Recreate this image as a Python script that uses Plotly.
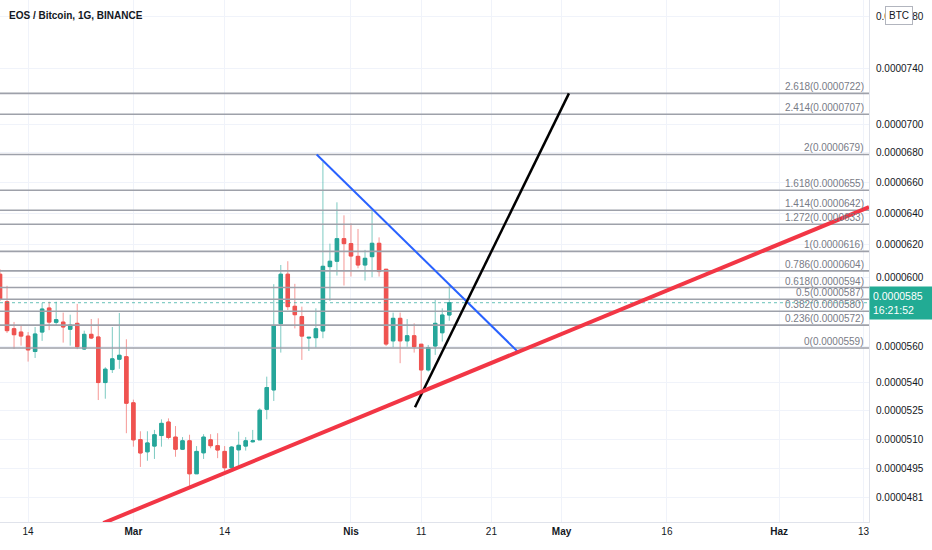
import numpy as np
import pandas as pd
import plotly.graph_objects as go

SCALE = 1e-7  # prices below are in units of 0.0000001 BTC

dates = pd.date_range("2021-02-10", periods=65, freq="D")

open_ = [602.0, 585.6, 569.9, 568.0, 565.7, 557.0, 568.0, 581.9, 573.6, 573.7,
         569.6, 573.0, 558.4, 566.7, 565.2, 539.9, 547.0, 552.7, 554.1, 529.0,
         509.8, 503.6, 506.5, 511.9, 518.9, 511.1, 504.9, 509.2, 492.6, 503.1,
         509.7, 506.7, 503.8, 495.6, 504.6, 506.5, 508.7, 509.7, 525.6, 535.9,
         572.8, 602.0, 582.9, 576.9, 564.6, 564.8, 568.6, 606.6, 609.9, 623.9,
         620.8, 612.9, 607.6, 612.7, 621.0, 605.0, 563.0, 575.9, 563.0, 565.9,
         561.1, 546.8, 560.1, 567.6, 577.8]
close = [587.2, 568.8, 566.5, 565.7, 557.9, 566.9, 581.3, 573.7, 575.1, 570.9,
         572.0, 559.7, 566.7, 564.6, 539.9, 547.2, 552.9, 554.9, 528.8, 509.7,
         503.0, 508.1, 512.3, 518.2, 510.9, 504.9, 509.2, 492.6, 503.8, 511.1,
         506.7, 504.5, 495.6, 506.0, 506.9, 509.2, 509.2, 525.1, 537.2, 571.6,
         602.0, 582.7, 578.0, 565.7, 565.0, 569.9, 606.8, 609.9, 623.9, 620.8,
         613.1, 607.6, 611.7, 621.0, 603.6, 561.2, 575.9, 563.0, 565.9, 559.7,
         546.8, 559.2, 573.0, 577.8, 585.0]
high = [605.0, 595.0, 573.8, 571.5, 568.0, 570.9, 584.9, 585.6, 585.6, 579.2,
        578.0, 584.3, 568.8, 575.5, 575.9, 548.3, 570.9, 579.0, 563.9, 530.7,
        514.1, 514.1, 514.8, 520.3, 520.8, 516.8, 511.1, 512.3, 506.5, 512.6,
        512.6, 513.1, 506.5, 506.5, 513.9, 511.1, 514.8, 526.1, 543.1, 596.0,
        607.6, 609.9, 596.2, 582.7, 565.0, 581.7, 674.0, 620.8, 647.1, 638.7,
        633.6, 630.0, 616.9, 641.7, 624.7, 605.0, 579.2, 579.2, 575.5, 573.0,
        561.1, 560.7, 587.0, 581.7, 595.4]
low = [586.0, 567.5, 558.4, 560.3, 551.4, 553.4, 563.0, 569.1, 572.0, 562.0,
       560.3, 558.3, 557.9, 564.0, 530.5, 531.2, 545.1, 547.4, 513.1, 506.2,
       496.0, 499.1, 500.0, 506.2, 510.0, 501.1, 504.5, 485.5, 492.5, 500.0,
       505.4, 500.4, 493.8, 495.4, 495.4, 504.2, 508.3, 509.7, 520.3, 530.0,
       556.4, 580.7, 570.1, 552.3, 557.3, 559.2, 564.5, 586.0, 601.2, 595.2,
       600.6, 605.6, 598.2, 600.2, 600.6, 560.1, 559.4, 550.5, 559.7, 556.4,
       534.1, 545.9, 555.1, 562.6, 574.5]

fib_levels = ["0", "0.236", "0.382", "0.5", "0.618", "0.786", "1",
              "1.272", "1.414", "1.618", "2", "2.414", "2.618"]
fib_prices = [559, 572, 580, 587, 594, 604, 616, 633, 642, 655, 679, 707, 722]

last_price = 585.0
countdown = "16:21:52"

y_tickvals = [780, 740, 700, 680, 660, 640, 620, 600, 560, 540, 525, 510, 495, 481]
x_tickvals = ["2021-02-14", "2021-03-01", "2021-03-14", "2021-04-01", "2021-04-11",
              "2021-04-21", "2021-05-01", "2021-05-16", "2021-06-01", "2021-06-13"]
x_ticktext = ["14", "<b>Mar</b>", "14", "<b>Nis</b>", "11", "21", "<b>May</b>", "16",
              "<b>Haz</b>", "13"]

x_range = ["2021-02-10 00:00", "2021-06-13 19:00"]
y_range_px = [469.3, 793.0]

# trend lines (date, price)
red_x = ["2021-02-24 17:10", "2021-06-13 19:00"]
red_y = [468.8, 644.0]
blue_x = ["2021-03-27 02:40", "2021-04-24 19:00"]
blue_y = [679.0, 556.8]
black_x = ["2021-04-10 02:50", "2021-05-02 01:10"]
black_y = [526.7, 722.0]

GREEN = "#26a69a"
RED = "#ef5350"
FONT = "Liberation Sans"

o = np.array(open_) * SCALE
c = np.array(close) * SCALE
h = np.array(high) * SCALE
l = np.array(low) * SCALE

fig = go.Figure()
# wicks (lighter)
fig.add_trace(go.Candlestick(
    x=dates, open=o, high=h, low=l, close=c,
    increasing=dict(line=dict(color="rgba(38,166,154,0.6)", width=1), fillcolor="rgba(38,166,154,0.6)"),
    decreasing=dict(line=dict(color="rgba(239,83,80,0.6)", width=1), fillcolor="rgba(239,83,80,0.6)"),
    hoverinfo="skip", showlegend=False))
# bodies
fig.add_trace(go.Candlestick(
    x=dates, open=o, high=np.maximum(o, c), low=np.minimum(o, c), close=c,
    increasing=dict(line=dict(color=GREEN, width=1), fillcolor=GREEN),
    decreasing=dict(line=dict(color=RED, width=1), fillcolor=RED),
    hoverinfo="skip", showlegend=False))

# fib lines
for lv, pr in zip(fib_levels, fib_prices):
    fig.add_trace(go.Scatter(x=x_range, y=[pr * SCALE] * 2, mode="lines",
                             line=dict(color="#9ea1aa", width=1.6),
                             hoverinfo="skip", showlegend=False))
    fig.add_annotation(xref="paper", x=865 / 869, xanchor="right",
                       y=np.log10(pr * SCALE), yanchor="bottom",
                       text=f"{lv}({pr * SCALE:.7f})", showarrow=False,
                       font=dict(family=FONT, size=10, color="#787b86"),
                       borderpad=0)

# last price dotted line
fig.add_trace(go.Scatter(x=x_range, y=[last_price * SCALE] * 2, mode="lines",
                         line=dict(color="rgba(38,166,154,0.7)", width=1, dash="dot"),
                         hoverinfo="skip", showlegend=False))

fig.add_trace(go.Scatter(x=blue_x, y=np.array(blue_y) * SCALE, mode="lines",
                         line=dict(color="#2962ff", width=2), hoverinfo="skip", showlegend=False))
fig.add_trace(go.Scatter(x=black_x, y=np.array(black_y) * SCALE, mode="lines",
                         line=dict(color="#000000", width=2.5), hoverinfo="skip", showlegend=False))
fig.add_trace(go.Scatter(x=red_x, y=np.array(red_y) * SCALE, mode="lines",
                         line=dict(color="#f23645", width=4), hoverinfo="skip", showlegend=False))

# title
fig.add_annotation(xref="paper", yref="paper", x=7 / 869, y=1 - 15 / 522,
                   xanchor="left", yanchor="middle", showarrow=False,
                   text="<b>EOS / Bitcoin, 1G, BINANCE</b>",
                   font=dict(family=FONT, size=10, color="#131722"))

# BTC badge
fig.add_annotation(xref="paper", yref="paper", x=899 / 869, y=1 - 15 / 522,
                   xanchor="center", yanchor="middle", showarrow=False,
                   text="BTC", font=dict(family=FONT, size=10, color="#131722"),
                   bgcolor="white", bordercolor="#b2b5be", borderwidth=1, borderpad=3)

# last price badge
fig.add_annotation(xref="paper", x=1.0, xanchor="left",
                   y=np.log10(last_price * SCALE), yanchor="middle", showarrow=False,
                   text=f"{last_price * SCALE:.7f}<br>{countdown}", align="left",
                   font=dict(family=FONT, size=10.5, color="white"),
                   bgcolor="#22ab94", borderpad=3, width=57)

fig.update_layout(
    width=932, height=550,
    margin=dict(l=0, r=63, t=0, b=28),
    paper_bgcolor="white", plot_bgcolor="white",
    showlegend=False,
    xaxis=dict(type="date", range=x_range, rangeslider=dict(visible=False),
               tickvals=x_tickvals, ticktext=x_ticktext,
               tickfont=dict(family=FONT, size=10, color="#131722"),
               showgrid=True, gridcolor="#f0f3fa", gridwidth=1,
               showline=True, linecolor="#e0e3eb", linewidth=1,
               ticks="", zeroline=False, fixedrange=True),
    yaxis=dict(type="log", side="right",
               range=[np.log10(y_range_px[0] * SCALE), np.log10(y_range_px[1] * SCALE)],
               tickvals=[v * SCALE for v in y_tickvals],
               ticktext=[f"{v * SCALE:.7f}" for v in y_tickvals],
               tickfont=dict(family=FONT, size=10, color="#131722"),
               showgrid=True, gridcolor="#f0f3fa", gridwidth=1,
               showline=True, linecolor="#e0e3eb", linewidth=1,
               ticks="outside", ticklen=4, tickcolor="white",
               zeroline=False, fixedrange=True),
)

fig.write_html("out.html")
